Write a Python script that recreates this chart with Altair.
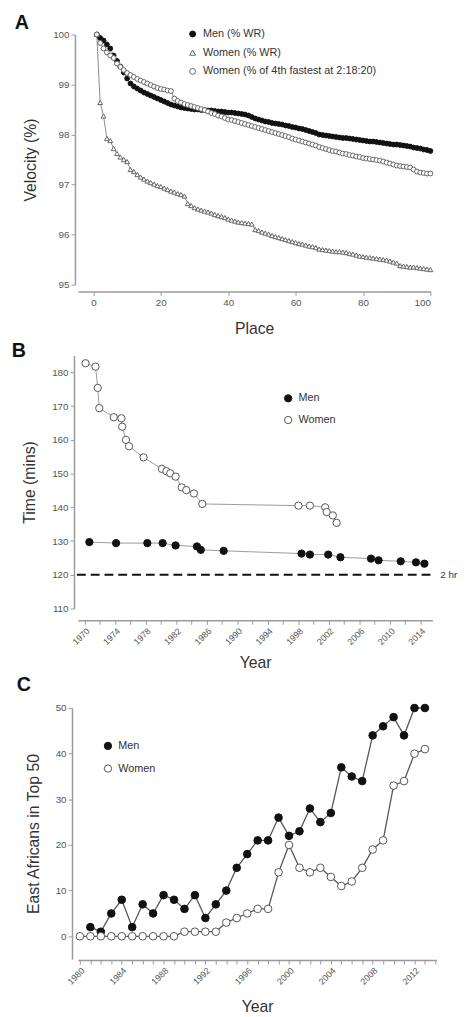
import altair as alt
import pandas as pd

FONT = "Liberation Sans"

# ---------------- Panel A data ----------------
places = list(range(1, 101))
men_wr = [
    100.00, 99.93, 99.88, 99.80, 99.72, 99.58, 99.47, 99.36, 99.24, 99.12,
    99.02, 98.96, 98.92, 98.88, 98.84, 98.81, 98.78, 98.75, 98.72, 98.69,
    98.66, 98.63, 98.60, 98.58, 98.56, 98.54, 98.53, 98.52, 98.51, 98.50,
    98.50, 98.49, 98.49, 98.48, 98.48, 98.47, 98.46, 98.46, 98.45, 98.44,
    98.44, 98.43, 98.42, 98.41, 98.40, 98.38, 98.35, 98.32, 98.30, 98.28,
    98.26, 98.25, 98.23, 98.22, 98.21, 98.20, 98.18, 98.17, 98.15, 98.14,
    98.12, 98.11, 98.09, 98.07, 98.05, 98.03, 98.00, 97.99, 97.98, 97.97,
    97.96, 97.95, 97.94, 97.93, 97.93, 97.92, 97.91, 97.90, 97.89, 97.88,
    97.87, 97.86, 97.86, 97.85, 97.84, 97.83, 97.82, 97.81, 97.80, 97.80,
    97.79, 97.78, 97.77, 97.76, 97.74, 97.73, 97.72, 97.70, 97.69, 97.67]
women_wr = [
    100.00, 98.64, 98.37, 97.92, 97.88, 97.72, 97.62, 97.55, 97.50, 97.46,
    97.30, 97.26, 97.20, 97.15, 97.11, 97.07, 97.04, 97.01, 96.98, 96.96,
    96.93, 96.90, 96.87, 96.85, 96.82, 96.80, 96.77, 96.62, 96.58, 96.54,
    96.51, 96.49, 96.47, 96.45, 96.43, 96.40, 96.38, 96.36, 96.34, 96.31,
    96.29, 96.27, 96.25, 96.24, 96.23, 96.22, 96.21, 96.10, 96.08, 96.05,
    96.03, 96.01, 95.98, 95.96, 95.94, 95.92, 95.90, 95.88, 95.86, 95.84,
    95.82, 95.81, 95.79, 95.77, 95.76, 95.74, 95.71, 95.70, 95.69, 95.68,
    95.67, 95.66, 95.66, 95.65, 95.64, 95.62, 95.61, 95.59, 95.57, 95.56,
    95.55, 95.54, 95.53, 95.52, 95.51, 95.50, 95.49, 95.47, 95.45, 95.43,
    95.38, 95.37, 95.36, 95.35, 95.35, 95.34, 95.33, 95.32, 95.31, 95.30]
women_4th = [
    100.00, 99.83, 99.72, 99.64, 99.58, 99.53, 99.42, 99.35, 99.29, 99.23,
    99.19, 99.15, 99.11, 99.08, 99.05, 99.02, 98.99, 98.96, 98.93, 98.91,
    98.90, 98.88, 98.87, 98.72, 98.67, 98.64, 98.61, 98.59, 98.57, 98.55,
    98.53, 98.51, 98.49, 98.46, 98.43, 98.41, 98.38, 98.36, 98.33, 98.30,
    98.29, 98.27, 98.25, 98.23, 98.21, 98.19, 98.17, 98.15, 98.13, 98.11,
    98.09, 98.07, 98.05, 98.03, 98.01, 97.99, 97.97, 97.95, 97.92, 97.90,
    97.88, 97.86, 97.84, 97.82, 97.80, 97.78, 97.75, 97.73, 97.71, 97.69,
    97.67, 97.66, 97.64, 97.62, 97.61, 97.59, 97.58, 97.56, 97.55, 97.53,
    97.52, 97.51, 97.50, 97.49, 97.48, 97.46, 97.44, 97.42, 97.40, 97.38,
    97.37, 97.36, 97.35, 97.34, 97.30, 97.26, 97.24, 97.23, 97.22, 97.22]
a_labels = ["Men (% WR)", "Women (% WR)", "Women (% of 4th fastest at 2:18:20)"]

# ---------------- Panel B data ----------------
b_men_year = [1970.6, 1974.1, 1978.2, 1980.2, 1981.9, 1984.7, 1985.2, 1988.2, 1998.4,
              1999.5, 2001.9, 2003.5, 2007.5, 2008.5, 2011.4, 2013.4, 2014.5]
b_men_time = [129.7, 129.4, 129.4, 129.4, 128.7, 128.4, 127.4, 127.1, 126.3,
              126.0, 126.0, 125.2, 124.8, 124.3, 124.0, 123.7, 123.3]
b_women_year = [1970.1, 1971.4, 1971.7, 1971.9, 1973.8, 1974.8, 1974.9, 1975.4, 1975.8,
                1977.7, 1980.1, 1980.7, 1981.2, 1981.9, 1982.7, 1983.3, 1984.3, 1985.4,
                1998.0, 1999.5, 2001.5, 2001.7, 2002.5, 2003.0]
b_women_time = [182.7, 181.7, 175.4, 169.4, 166.7, 166.4, 163.9, 160.0, 158.1,
                154.8, 151.4, 150.7, 150.1, 149.1, 145.9, 145.1, 144.1, 141.0,
                140.5, 140.5, 140.0, 138.6, 137.6, 135.4]
b_labels = ["Men", "Women"]

# ---------------- Panel C data ----------------
c_men_year = list(range(1981, 2014))
c_men = [2, 1, 5, 8, 2, 7, 5, 9, 8, 6, 9, 4, 7, 10, 15, 18, 21, 21, 26, 22,
         23, 28, 25, 27, 37, 35, 34, 44, 46, 48, 44, 50, 50]
c_women_year = list(range(1980, 2014))
c_women = [0, 0, 0, 0, 0, 0, 0, 0, 0, 0, 1, 1, 1, 1, 3, 4, 5, 6, 6, 14,
           20, 15, 14, 15, 13, 11, 12, 15, 19, 21, 33, 34, 40, 41]


def ax(**kw):
    d = dict(domainColor="#9a9a9a", domainWidth=1.5, tickColor="#9a9a9a", tickWidth=1,
             tickSize=4, labelColor="#555555", labelFontSize=10, labelFont=FONT,
             titleFont=FONT, titleFontSize=16, titleColor="#333333",
             titleFontWeight="normal", grid=False)
    d.update(kw)
    return alt.Axis(**d)


def leg(x, y, size, row):
    return alt.Legend(title=None, orient="none", legendX=x, legendY=y, labelFont=FONT,
                      labelFontSize=11, labelFontWeight="normal", labelColor="#333333",
                      labelLimit=400, symbolSize=size, symbolStrokeWidth=1,
                      rowPadding=row, padding=0, labelOffset=5)


def letter(t, x, y):
    return alt.Chart(pd.DataFrame({"t": [t]})).mark_text(
        font=FONT, fontSize=20, fontWeight="bold", align="center", baseline="middle",
        color="#111111").encode(text="t:N", x=alt.value(x), y=alt.value(y))


# ---------------- Panel A ----------------
dfA = pd.DataFrame({
    "place": places * 3,
    "value": men_wr + women_wr + women_4th,
    "series": [a_labels[0]] * 100 + [a_labels[1]] * 100 + [a_labels[2]] * 100,
})
xA = alt.X("place:Q", scale=alt.Scale(domain=[-4.6, 100], nice=False, zero=False),
           axis=ax(values=[0, 20, 40, 60, 80, 100], offset=7, title="Place", titlePadding=14))
yA = alt.Y("value:Q", scale=alt.Scale(domain=[95, 100], nice=False, zero=False),
           axis=ax(values=[95, 96, 97, 98, 99, 100], offset=3, title="Velocity (%)", titlePadding=14))
legA = leg(111, -6, 36, 7)
linesA = alt.Chart(dfA).mark_line(color="#8a8a8a", strokeWidth=1).encode(x=xA, y=yA, detail="series:N")
pointsA = alt.Chart(dfA).mark_point(filled=True, opacity=1, size=24, strokeWidth=1).encode(
    x=xA, y=yA,
    shape=alt.Shape("series:N", scale=alt.Scale(domain=a_labels, range=["circle", "triangle-up", "circle"]), legend=legA),
    fill=alt.Fill("series:N", scale=alt.Scale(domain=a_labels, range=["#111111", "white", "white"]), legend=legA),
    stroke=alt.Stroke("series:N", scale=alt.Scale(domain=a_labels, range=["#111111", "#666666", "#666666"]), legend=legA),
)
panelA = alt.layer(linesA, pointsA, letter("A", -57, -12)).properties(width=358, height=254)

# ---------------- Panel B ----------------
dfB = pd.DataFrame({
    "year": b_men_year + b_women_year,
    "time": b_men_time + b_women_time,
    "series": ["Men"] * len(b_men_year) + ["Women"] * len(b_women_year),
})
xB = alt.X("year:Q", scale=alt.Scale(domain=[1969.1, 2015.55], nice=False, zero=False),
           axis=ax(values=list(range(1970, 2016, 2)), format="d", labelAngle=-45, labelFontSize=9,
                   labelExpr="(datum.value - 1970) % 4 == 0 ? datum.label : ''",
                   offset=12, title="Year", titlePadding=8))
yB = alt.Y("time:Q", scale=alt.Scale(domain=[110, 185], nice=False, zero=False),
           axis=ax(values=list(range(110, 190, 10)), offset=4, title="Time (mins)", titlePadding=14))
legB = leg(208, 38, 55, 9)
linesB = alt.Chart(dfB).mark_line(color="#9a9a9a", strokeWidth=1).encode(x=xB, y=yB, detail="series:N")
pointsB = alt.Chart(dfB).mark_point(filled=True, opacity=1, size=55, strokeWidth=1).encode(
    x=xB, y=yB,
    fill=alt.Fill("series:N", scale=alt.Scale(domain=b_labels, range=["#111111", "white"]), legend=legB),
    stroke=alt.Stroke("series:N", scale=alt.Scale(domain=b_labels, range=["#111111", "#555555"]), legend=legB),
)
ruleB = alt.Chart(pd.DataFrame({"time": [120]})).mark_rule(
    color="#111111", strokeWidth=2, strokeDash=[9, 5]).encode(
    y=yB, x=alt.value(-1), x2=alt.value(362))
hrB = alt.Chart(pd.DataFrame({"time": [120], "t": ["2 hr"]})).mark_text(
    font=FONT, fontSize=10, color="#333333", align="left", baseline="middle").encode(
    y=yB, x=alt.value(368), text="t:N")
panelB = alt.layer(ruleB, linesB, pointsB, hrB, letter("B", -60, -4)).properties(width=360, height=257)

# ---------------- Panel C ----------------
dfC = pd.DataFrame({
    "year": c_men_year + c_women_year,
    "count": c_men + c_women,
    "series": ["Men"] * len(c_men_year) + ["Women"] * len(c_women_year),
})
xC = alt.X("year:Q", scale=alt.Scale(domain=[1979.81, 2014.09], nice=False, zero=False),
           axis=ax(values=list(range(1980, 2015)), format="d", labelAngle=-45, labelFontSize=9,
                   labelExpr="(datum.value - 1980) % 4 == 0 ? datum.label : ''",
                   offset=1, title="Year", titlePadding=13))
yC = alt.Y("count:Q", scale=alt.Scale(domain=[-5, 50], nice=False, zero=False),
           axis=ax(values=[0, 10, 20, 30, 40, 50], offset=6, title="East Africans in Top 50", titlePadding=14))
legC = leg(25, 33, 55, 10)
linesC = alt.Chart(dfC).mark_line(color="#555555", strokeWidth=1.3).encode(x=xC, y=yC, detail="series:N")
pointsC = alt.Chart(dfC).mark_point(filled=True, opacity=1, size=60, strokeWidth=1).encode(
    x=xC, y=yC,
    fill=alt.Fill("series:N", scale=alt.Scale(domain=b_labels, range=["#111111", "white"]), legend=legC),
    stroke=alt.Stroke("series:N", scale=alt.Scale(domain=b_labels, range=["#111111", "#555555"]), legend=legC),
)
panelC = alt.layer(linesC, pointsC, letter("C", -55, -23)).properties(width=364, height=255)

chart = alt.vconcat(panelA, panelB, panelC, spacing=5).resolve_scale(
    fill="independent", stroke="independent", shape="independent"
).resolve_legend(
    fill="independent", stroke="independent", shape="independent"
).configure_view(stroke=None).properties(
    padding={"left": 3, "top": -3, "right": 0, "bottom": 0})

chart.save("out.html", embed_options={"renderer": "svg", "actions": False})
